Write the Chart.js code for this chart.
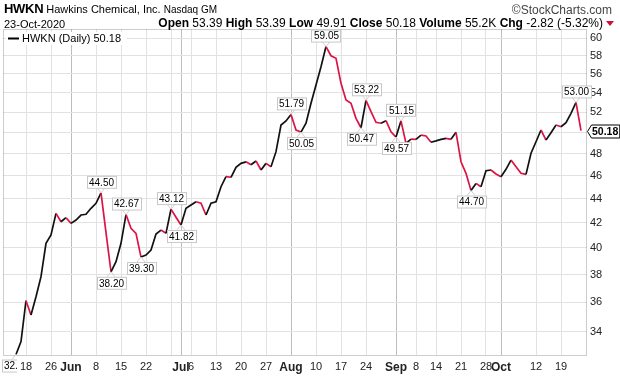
<!DOCTYPE html>
<html>
<head>
<meta charset="utf-8">
<script src="https://cdn.jsdelivr.net/npm/chart.js@4.4.1/dist/chart.umd.min.js"></script>
<style>
  body { margin: 0; background: #fff; }
  #wrap { position: relative; width: 620px; height: 376px; font-family: "Liberation Sans", Arial, sans-serif; color: #000; }
  #salesChart { position: absolute; left: 0; top: 0; }
  .row { position: absolute; white-space: nowrap; font-size: 11px; line-height: 12px; }
  .sym { font-weight: bold; font-size: 13px; letter-spacing: -0.3px; }
  .small { font-size: 10px; }
  .ohlc { font-size: 12px; }
  b { font-weight: bold; }
  .tri { display: inline-block; width: 0; height: 0; border-left: 4px solid transparent; border-right: 4px solid transparent; border-top: 5px solid #cc1133; margin-left: 3px; vertical-align: 1px; }
</style>
</head>
<body>
<div id="wrap">
  <canvas id="salesChart" width="620" height="376"></canvas>
  <div class="row" style="left:4px; top:3px;"><span class="sym">HWKN</span> Hawkins Chemical, Inc. <span class="small">Nasdaq GM</span></div>
  <div class="row" style="right:8px; top:4px; color:#444; font-size:12px;">&copy;StockCharts.com</div>
  <div class="row" style="left:4px; top:18px;">23-Oct-2020</div>
  <div class="row ohlc" style="right:6px; top:17px;"><b>Open</b> 53.39 <b>High</b> 53.39 <b>Low</b> 49.91 <b>Close</b> 50.18 <b>Volume</b> 55.2K <b>Chg</b> -2.82 (-5.32%)<span class="tri"></span></div>
</div>
<script>
// trading days, May 14 - Oct 23 2020
const mayDays = [14, 15, 18, 19, 20, 21, 22, 26, 27, 28, 29];
const junDays = [1, 2, 3, 4, 5, 8, 9, 10, 11, 12, 15, 16, 17, 18, 19, 22, 23, 24, 25, 26, 29, 30];
const julDays = [1, 2, 6, 7, 8, 9, 10, 13, 14, 15, 16, 17, 20, 21, 22, 23, 24, 27, 28, 29, 30, 31];
const augDays = [3, 4, 5, 6, 7, 10, 11, 12, 13, 14, 17, 18, 19, 20, 21, 24, 25, 26, 27, 28, 31];
const sepDays = [1, 2, 3, 4, 8, 9, 10, 11, 14, 15, 16, 17, 18, 21, 22, 23, 24, 25, 28, 29, 30];
const octDays = [1, 2, 5, 6, 7, 8, 9, 12, 13, 14, 15, 16, 19, 20, 21, 22, 23];

const dates = [].concat(
    mayDays.map(d => 'May ' + d), junDays.map(d => 'Jun ' + d), julDays.map(d => 'Jul ' + d),
    augDays.map(d => 'Aug ' + d), sepDays.map(d => 'Sep ' + d), octDays.map(d => 'Oct ' + d));

const closes = [
    32.55, 33.37, 36.12, 35.14, 36.40, 37.84, 40.36, 41.02, 42.77, 42.08,
    42.41, 41.95, 42.22, 42.63, 42.69, 43.19, 43.61, 44.50, 41.20, 38.20,
    38.95, 40.36, 42.67, 41.55, 41.15, 39.30, 39.46, 39.84, 41.09, 41.41,
    41.15, 43.12, 42.45, 41.82, 43.19, 43.47, 43.74, 43.61, 42.63, 43.61,
    43.74, 45.03, 45.91, 45.86, 46.75, 47.11, 47.25, 46.98, 47.33, 46.51,
    47.11, 46.80, 48.19, 50.74, 51.13, 51.79, 50.25, 50.05, 50.91, 52.91,
    54.82, 56.79, 59.05, 58.01, 57.72, 55.00, 53.25, 52.91, 51.40, 50.47,
    53.22, 52.06, 51.00, 50.91, 51.16, 50.08, 49.57, 51.15, 48.97, 49.38,
    49.35, 49.76, 49.67, 49.07, 49.20, 49.35, 49.45, 49.35, 50.03, 47.26,
    46.21, 44.70, 45.32, 45.03, 46.44, 46.51, 46.15, 45.91, 46.57, 47.41,
    46.80, 46.21, 46.12, 48.04, 49.12, 50.25, 49.28, 49.99, 50.74, 50.57,
    50.96, 51.90, 53.00, 50.18
];

// days that carry a value label
const markedDays = ['May 14', 'Jun 9', 'Jun 11', 'Jun 16', 'Jun 19', 'Jun 29', 'Jul 1', 'Aug 3', 'Aug 5',
    'Aug 12', 'Aug 21', 'Aug 24', 'Sep 1', 'Sep 2', 'Sep 23', 'Oct 22'];

const tickDates = ['May 18', 'May 26', 'Jun 1', 'Jun 8', 'Jun 15', 'Jun 22', 'Jun 29', 'Jul 1', 'Jul 6',
    'Jul 13', 'Jul 20', 'Jul 27', 'Aug 3', 'Aug 10', 'Aug 17', 'Aug 24', 'Sep 1', 'Sep 8', 'Sep 14',
    'Sep 21', 'Sep 28', 'Oct 1', 'Oct 12', 'Oct 19'];
const tickLabels = ['18', '26', 'Jun', '8', '15', '22', '', 'Jul', '6', '13', '20', '27', 'Aug', '10',
    '17', '24', 'Sep', '8', '14', '21', '28', 'Oct', '12', '19'];
const yTicks = [34, 36, 38, 40, 42, 44, 46, 48, 50, 52, 54, 56, 58, 60];

const UP = '#111111';
const DOWN = '#dc1446';
const FONT = '"Liberation Sans", Arial, sans-serif';

const isMonth = (i) => /^[A-Z]/.test(tickLabels[i] || '');

// frame, value boxes, legend and price tag
const extras = {
    id: 'extras',
    beforeDatasetsDraw(chart) {
        const c = chart.ctx, a = chart.chartArea;
        c.save();
        c.strokeStyle = '#9a9a9a';
        c.lineWidth = 1;
        c.setLineDash([1, 1]);
        c.strokeRect(a.left + 0.5, a.top + 0.5, a.right - a.left - 1, a.bottom - a.top);
        c.restore();
    },
    afterDraw(chart) {
        const c = chart.ctx, a = chart.chartArea;
        const xs = chart.scales.x, ys = chart.scales.y;
        c.save();
        c.font = '10px ' + FONT;
        c.textAlign = 'center';
        c.textBaseline = 'middle';
        markedDays.forEach(d => {
            const i = dates.indexOf(d);
            const v = closes[i];
            const px = xs.getPixelForValue(i);
            const py = ys.getPixelForValue(v);
            const above = i + 1 < closes.length && v > closes[i + 1];
            const txt = v.toFixed(2);
            const w = Math.round(c.measureText(txt).width) + 4;
            const h = 12;
            const top = above ? py - 5 - h : py + 5;
            c.save();
            if (i === 0) {
                c.beginPath();
                c.rect(0, 0, a.left + 14, chart.height);
                c.clip();
            }
            c.strokeStyle = '#cfcfcf';
            c.lineWidth = 1;
            c.beginPath();
            const edge = above ? top + h : top;
            c.moveTo(px - 4, edge); c.lineTo(px, py);
            c.moveTo(px + 4, edge); c.lineTo(px, py);
            c.stroke();
            c.fillStyle = '#fff';
            c.fillRect(Math.round(px - w / 2) + 0.5, top + 0.5, w, h);
            c.strokeStyle = '#c8c8c8';
            c.strokeRect(Math.round(px - w / 2) + 0.5, top + 0.5, w, h);
            c.fillStyle = '#000';
            c.fillText(txt, px + 0.5, top + h / 2 + 1);
            c.restore();
        });

        // legend
        const last = closes[closes.length - 1];
        c.font = '11px ' + FONT;
        c.textAlign = 'left';
        const label = 'HWKN (Daily) ' + last.toFixed(2);
        const lw = c.measureText(label).width;
        c.fillStyle = '#fff';
        c.fillRect(a.left + 3, a.top + 3, lw + 22, 13);
        c.strokeStyle = '#000';
        c.lineWidth = 2;
        c.beginPath();
        c.moveTo(a.left + 5, a.top + 9.5);
        c.lineTo(a.left + 16, a.top + 9.5);
        c.stroke();
        c.fillStyle = '#000';
        c.fillText(label, a.left + 19, a.top + 10);

        // last price tag on the axis
        const ty = Math.round(ys.getPixelForValue(last)) + 0.5;
        c.font = 'bold 10.5px ' + FONT;
        const tw = c.measureText(last.toFixed(2)).width;
        const x0 = a.right + 0.5;
        c.beginPath();
        c.moveTo(x0, ty);
        c.lineTo(x0 + 4, ty - 6.5);
        c.lineTo(x0 + 6 + tw, ty - 6.5);
        c.lineTo(x0 + 6 + tw, ty + 6.5);
        c.lineTo(x0 + 4, ty + 6.5);
        c.closePath();
        c.fillStyle = '#fff';
        c.fill();
        c.lineWidth = 1;
        c.strokeStyle = '#000';
        c.stroke();
        c.fillStyle = '#000';
        c.fillText(last.toFixed(2), x0 + 4.5, ty + 0.5);
        c.restore();
    }
};

const ctx = document.getElementById('salesChart').getContext('2d');

const priceChart = new Chart(ctx, {
    type: 'line',
    data: {
        datasets: [{
            label: 'HWKN (Daily)',
            data: closes.map((v, i) => ({ x: i, y: v })),
            borderColor: UP,
            borderWidth: 1.7,
            pointRadius: 0,
            tension: 0,
            segment: {
                borderColor: s => s.p1.parsed.y < s.p0.parsed.y ? DOWN : UP
            }
        }]
    },
    options: {
        responsive: false,
        animation: false,
        devicePixelRatio: 1,
        layout: { padding: { top: 29, left: 3, right: 0, bottom: 0 } },
        plugins: {
            legend: { display: false },
            tooltip: { enabled: false }
        },
        scales: {
            x: {
                type: 'linear',
                min: -2.6,
                max: 114.2,
                afterBuildTicks: axis => {
                    axis.ticks = tickDates.map(d => ({ value: dates.indexOf(d) }));
                },
                afterFit: axis => { axis.height = 21; },
                border: { display: false },
                grid: {
                    drawTicks: false,
                    color: g => isMonth(g.index) ? '#bdbdbd' : '#e2e2e2'
                },
                ticks: {
                    autoSkip: false,
                    maxRotation: 0,
                    padding: 5,
                    color: '#222',
                    font: t => ({ family: FONT, size: isMonth(t.index) ? 12 : 11, weight: isMonth(t.index) ? 'bold' : 'normal' }),
                    callback: (v, i) => tickLabels[i]
                }
            },
            y: {
                type: 'logarithmic',
                position: 'right',
                min: 32.52,
                max: 61.09,
                afterBuildTicks: axis => {
                    axis.ticks = yTicks.map(v => ({ value: v }));
                },
                afterFit: axis => { axis.width = 33; },
                border: { display: false },
                grid: { drawTicks: false, color: '#e2e2e2' },
                ticks: {
                    padding: 3,
                    color: '#222',
                    font: { family: FONT, size: 11 },
                    callback: v => String(v)
                }
            }
        }
    },
    plugins: [extras]
});
</script>
</body>
</html>
